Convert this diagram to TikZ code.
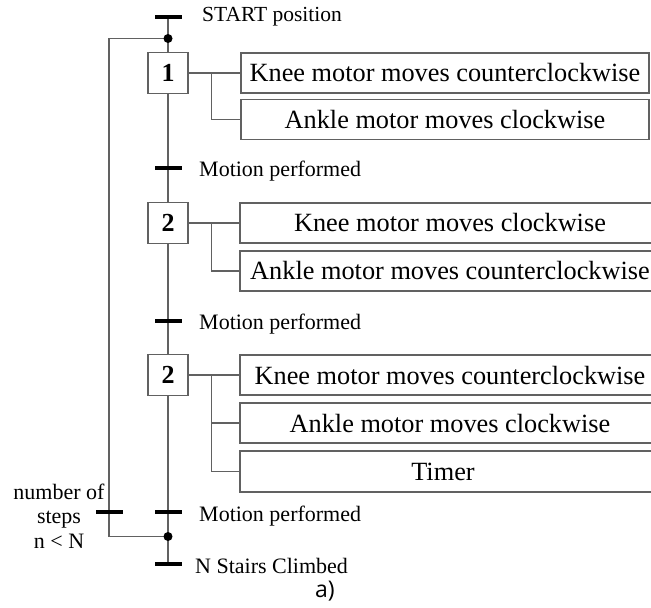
\documentclass[tikz,border=0pt]{standalone}
\usepackage{fontspec}
\setmainfont{Liberation Serif}
\newfontfamily\asans{Open Sans}
\usetikzlibrary{backgrounds}
\tikzset{
  lin/.style={draw=black!62, line width=1.2pt},
  barnode/.style={fill=black, inner sep=0pt, minimum width=27pt, minimum height=3.2pt},
  dotnode/.style={circle, fill=black, inner sep=0pt, minimum size=9pt},
  stepbox/.style={draw=black!62, line width=1.2pt, fill=white, minimum width=40pt, minimum height=41pt, inner sep=0pt, font=\fontsize{26}{26}\selectfont\bfseries},
  actbox/.style={draw=black!62, line width=1.2pt, fill=white, minimum height=40pt, inner sep=0pt, font=\fontsize{26.3}{28}\selectfont},
  lbl/.style={anchor=west, inner sep=0pt, font=\fontsize{22}{25}\selectfont},
}
\begin{document}
\begin{tikzpicture}[x=1pt, y=-1pt]
\useasboundingbox (0,0) rectangle (651,608);
\clip (0,0) rectangle (651,608);
% coordinates
\coordinate (lx) at (109,0);
\coordinate (bx) at (211.5,0);
% transitions
\node[barnode] (t0) at (168,17) {};
\node[barnode] (t1) at (168,168) {};
\node[barnode] (t2) at (168,321) {};
\node[barnode] (t3) at (168,512) {};
\node[barnode] (t4) at (168,564) {};
\node[barnode] (tl) at (109,512) {};
\node[dotnode] (d0) at (168,38.5) {};
\node[dotnode] (d1) at (168,536.5) {};
% steps
\node[stepbox] (s1) at (168,73) {1};
\node[stepbox] (s2) at (168,223) {2};
\node[stepbox] (s3) at (168,375) {2};
% actions
\node[actbox, minimum width=408pt] (a11) at (445,73) {Knee motor moves counterclockwise};
\node[actbox, minimum width=408pt] (a12) at (445,119.5) {Ankle motor moves clockwise};
\node[actbox, minimum width=420pt] (a21) at (450,223) {Knee motor moves clockwise};
\node[actbox, minimum width=420pt] (a22) at (450,271) {Ankle motor moves counterclockwise};
\node[actbox, minimum width=420pt] (a31) at (450,375) {Knee motor moves counterclockwise};
\node[actbox, minimum width=420pt] (a32) at (450,423) {Ankle motor moves clockwise};
\node[actbox, minimum width=420pt, minimum height=41pt] (a33) at (450,471.5) {\hspace*{-14pt}Timer};
% labels
\node[lbl, font=\fontsize{21.5}{24}\selectfont] (l0) at (202,17) {START position};
\node[lbl] (l1) at (199,171) {Motion performed};
\node[lbl] (l2) at (199,324) {Motion performed};
\node[lbl] (l3) at (199,516) {Motion performed};
\node[lbl] (l4) at (195,566) {N Stairs Climbed};
\node[align=center, inner sep=0pt, font=\fontsize{22}{24.5}\selectfont] (ln) at (59,516) {number of\\steps\\n < N};
\node[inner sep=0pt, font=\asans\fontsize{23}{25}\selectfont] (la) at (325,591) {a)};
% connectors
\begin{scope}[on background layer]
\draw[lin] (t0.center) -- (s1.north);
\draw[lin] (s1.south) -- (s2.north);
\draw[lin] (s2.south) -- (s3.north);
\draw[lin] (s3.south) -- (t4.center);
\draw[lin] (d1.center) -- (d1.center -| lx) -- (d0.center -| lx) -- (d0.center);
\draw[lin] (s1.east) -- (a11.west);
\draw[lin] (s1.east -| bx) |- (a12.west);
\draw[lin] (s2.east) -- (a21.west);
\draw[lin] (s2.east -| bx) |- (a22.west);
\draw[lin] (s3.east) -- (a31.west);
\draw[lin] (s3.east -| bx) |- (a32.west);
\draw[lin] (s3.east -| bx) |- (a33.west);
\end{scope}
\end{tikzpicture}
\end{document}
